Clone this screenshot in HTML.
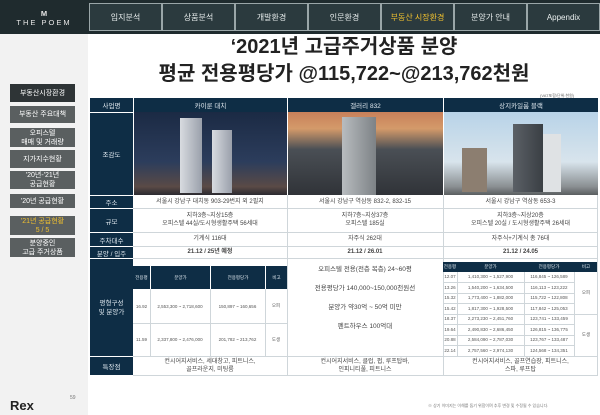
<!DOCTYPE html>
<html><head><meta charset="utf-8"><style>
*{margin:0;padding:0;box-sizing:border-box}
body{width:600px;height:415px;overflow:hidden;background:#fff;font-family:"Liberation Sans","Noto Sans CJK KR",sans-serif;position:relative;color:#333}
.a{position:absolute}
.c{display:flex;align-items:center;justify-content:center;text-align:center}
.nav{top:3px;height:28px;border:1px solid #9aa6a8;background:#2b3a3e;color:#e8eded;font-size:8px}
.sb{left:10px;width:65px;background:#5a5f60;color:#fff;font-size:7px;line-height:9px}
.hd{background:#0e2d45;color:#dfe8ef;font-size:6.5px}
.lb{left:90px;width:43px;background:#0e2d45;color:#dfe8ef;font-size:6.5px}
.cell{font-size:6px;color:#444;line-height:8px}
.ln{height:1px;background:#cfd6da}
.vl{width:1px;background:#cfd6da}
.sm{font-size:4.5px;color:#555}
</style></head><body>
<div class="a" style="left:0;top:0;width:600px;height:34px;background:#1f2b2e"></div>
<div class="a c" style="left:0;top:6px;width:88px;height:24px;color:#e6e6e6;font-size:7.5px;letter-spacing:2px;flex-direction:column;line-height:9px"><span style="font-weight:bold;letter-spacing:0">M</span><span>THE POEM</span></div>
<div class="a c nav" style="left:89px;width:73px">입지분석</div>
<div class="a c nav" style="left:162px;width:73px">상품분석</div>
<div class="a c nav" style="left:235px;width:73px">개발환경</div>
<div class="a c nav" style="left:308px;width:73px">인문환경</div>
<div class="a c nav" style="left:381px;width:73px;color:#f2c12e">부동산 시장환경</div>
<div class="a c nav" style="left:454px;width:73px">분양가 안내</div>
<div class="a c nav" style="left:527px;width:73px">Appendix</div>
<div class="a" style="left:0;top:34px;width:88px;height:381px;background:#f2f2f2"></div>
<div class="a c sb" style="top:84px;height:18px;background:#2e3436">부동산시장환경</div>
<div class="a c sb" style="top:106px;height:17px">부동산 주요대책</div>
<div class="a c sb" style="top:128px;height:19px">오피스텔<br>매매 및 거래량</div>
<div class="a c sb" style="top:150px;height:18px">지가지수현황</div>
<div class="a c sb" style="top:171px;height:18px">'20년-'21년<br>공급현황</div>
<div class="a c sb" style="top:194px;height:14px">'20년 공급현황</div>
<div class="a c sb" style="top:216px;height:19px;color:#f2c12e">'21년 공급현황<br>5 / 5</div>
<div class="a c sb" style="top:238px;height:19px">분양중인<br>고급 주거상품</div>
<div class="a" style="left:10px;top:398px;font-size:13px;font-weight:bold;color:#222">Rex</div>
<div class="a" style="left:70px;top:395px;font-size:5px;color:#777">59</div>
<div class="a c" style="left:90px;top:34px;width:508px;font-size:20px;font-weight:bold;color:#222;line-height:27px;flex-direction:column"><span>‘2021년 고급주거상품 분양</span><span>평균 전용평당가 @115,722~@213,762천원</span></div>
<div class="a" style="left:540px;top:93px;font-size:4px;color:#666">(VAT포함/단위:천원)</div>
<!-- header row -->
<div class="a c hd" style="left:90px;top:98px;width:508px;height:14px"></div>
<div class="a c hd" style="left:90px;top:98px;width:43px;height:14px">사업명</div>
<div class="a c hd" style="left:133px;top:98px;width:154px;height:14px;border-left:1px solid #fff">카이룬 대치</div>
<div class="a c hd" style="left:287px;top:98px;width:156px;height:14px;border-left:1px solid #fff">갤러리 832</div>
<div class="a c hd" style="left:443px;top:98px;width:155px;height:14px;border-left:1px solid #fff">상지카일룸 블랙</div>
<!-- labels -->
<div class="a c lb" style="top:112px;height:83px;border-top:1px solid #fff">조감도</div>
<div class="a c lb" style="top:195px;height:13px;border-top:1px solid #fff">주소</div>
<div class="a c lb" style="top:208px;height:24px;border-top:1px solid #fff">규모</div>
<div class="a c lb" style="top:232px;height:14px;border-top:1px solid #fff">주차대수</div>
<div class="a c lb" style="top:246px;height:12px;border-top:1px solid #fff">분양 / 입주</div>
<div class="a c lb" style="top:258px;height:98px;border-top:1px solid #fff;line-height:9px">평형구성<br>및 분양가</div>
<div class="a c lb" style="top:356px;height:19px;border-top:1px solid #fff">특장점</div>
<!-- images -->
<div class="a" style="left:134px;top:112px;width:153px;height:83px;background:linear-gradient(180deg,#1b2a44 0%,#2c3d5c 60%,#5a4a46 90%,#2b2a30 100%)"></div>
<div class="a" style="left:180px;top:118px;width:22px;height:75px;background:linear-gradient(90deg,#d8dbe0,#9aa0ab)"></div>
<div class="a" style="left:212px;top:130px;width:20px;height:63px;background:linear-gradient(90deg,#d8dbe0,#9aa0ab)"></div>
<div class="a" style="left:288px;top:112px;width:155px;height:83px;background:linear-gradient(180deg,#c8805a 0%,#d49a6a 20%,#4a4f55 45%,#303338 100%)"></div>
<div class="a" style="left:342px;top:117px;width:34px;height:78px;background:linear-gradient(90deg,#b8bcbf,#7d8286)"></div>
<div class="a" style="left:444px;top:112px;width:154px;height:83px;background:linear-gradient(180deg,#b8d3e8 0%,#d8e4ec 60%,#8a8f92 90%,#5a5e60 100%)"></div>
<div class="a" style="left:513px;top:124px;width:30px;height:68px;background:linear-gradient(90deg,#5b6066,#3a3f44)"></div>
<div class="a" style="left:543px;top:134px;width:18px;height:58px;background:#dfe2e4"></div>
<div class="a" style="left:462px;top:148px;width:25px;height:44px;background:#8c7e70"></div>
<!-- text rows -->
<div class="a c cell" style="left:133px;top:195px;width:154px;height:13px">서울시 강남구 대치동 903-29번지 외 2필지</div>
<div class="a c cell" style="left:287px;top:195px;width:156px;height:13px">서울시 강남구 역삼동 832-2, 832-15</div>
<div class="a c cell" style="left:443px;top:195px;width:155px;height:13px">서울시 강남구 역삼동 653-3</div>
<div class="a c cell" style="left:133px;top:208px;width:154px;height:24px">지하3층~지상15층<br>오피스텔 44실/도시형생활주택 56세대</div>
<div class="a c cell" style="left:287px;top:208px;width:156px;height:24px">지하7층~지상37층<br>오피스텔 185실</div>
<div class="a c cell" style="left:443px;top:208px;width:155px;height:24px">지하3층~지상20층<br>오피스텔 20실 / 도시형생활주택 26세대</div>
<div class="a c cell" style="left:133px;top:232px;width:154px;height:14px">기계식 116대</div>
<div class="a c cell" style="left:287px;top:232px;width:156px;height:14px">자주식 262대</div>
<div class="a c cell" style="left:443px;top:232px;width:155px;height:14px">자주식+기계식 총 76대</div>
<div class="a c cell" style="left:133px;top:246px;width:154px;height:12px;font-weight:bold">21.12 / 25년 예정</div>
<div class="a c cell" style="left:287px;top:246px;width:156px;height:12px;font-weight:bold">21.12 / 26.01</div>
<div class="a c cell" style="left:443px;top:246px;width:155px;height:12px;font-weight:bold">21.12 / 24.05</div>
<div class="a ln" style="left:133px;top:208px;width:465px"></div>
<div class="a ln" style="left:133px;top:232px;width:465px"></div>
<div class="a ln" style="left:133px;top:246px;width:465px"></div>
<div class="a ln" style="left:133px;top:258px;width:465px"></div>
<div class="a ln" style="left:133px;top:356px;width:465px"></div>
<div class="a ln" style="left:133px;top:375px;width:465px"></div>
<div class="a vl" style="left:287px;top:195px;height:180px"></div>
<div class="a vl" style="left:443px;top:195px;height:180px"></div>
<!-- col1 subtable -->
<div class="a hd" style="left:133px;top:266px;width:154px;height:23px"></div>
<div class="a c sm" style="left:133px;top:266px;width:17px;height:23px;color:#dfe8ef">전용평</div>
<div class="a c sm" style="left:150px;top:266px;width:60px;height:23px;color:#dfe8ef;border-left:1px solid #fff">분양가</div>
<div class="a c sm" style="left:210px;top:266px;width:55px;height:23px;color:#dfe8ef;border-left:1px solid #fff">전용평당가</div>
<div class="a c sm" style="left:265px;top:266px;width:22px;height:23px;color:#dfe8ef;border-left:1px solid #fff">비고</div>
<div class="a c sm" style="left:133px;top:289px;width:17px;height:34px">16.92</div>
<div class="a c sm" style="left:150px;top:289px;width:60px;height:34px">2,553,300 ~ 2,718,600</div>
<div class="a c sm" style="left:210px;top:289px;width:55px;height:34px">150,897 ~ 160,656</div>
<div class="a c sm" style="left:265px;top:289px;width:22px;height:34px">오피</div>
<div class="a c sm" style="left:133px;top:323px;width:17px;height:33px">11.59</div>
<div class="a c sm" style="left:150px;top:323px;width:60px;height:33px">2,337,800 ~ 2,476,000</div>
<div class="a c sm" style="left:210px;top:323px;width:55px;height:33px">201,782 ~ 213,762</div>
<div class="a c sm" style="left:265px;top:323px;width:22px;height:33px">도생</div>
<div class="a ln" style="left:133px;top:323px;width:154px"></div>
<div class="a vl" style="left:150px;top:289px;height:67px"></div>
<div class="a vl" style="left:210px;top:289px;height:67px"></div>
<div class="a vl" style="left:265px;top:289px;height:67px"></div>
<!-- col2 -->
<div class="a c cell" style="left:287px;top:258px;width:156px;height:80px;flex-direction:column;line-height:19px;font-size:6.5px"><span>오피스텔 전용(전층 복층) 24~60평</span><span>전용평당가 140,000~150,000천원선</span><span>분양가 약30억 ~ 50억 미만</span><span>펜트하우스 100억대</span></div>
<!-- col3 subtable -->
<div class="a hd" style="left:443px;top:262px;width:155px;height:10px"></div>
<div class="a c sm" style="left:443px;top:262px;width:14px;height:10px;color:#dfe8ef">전용평</div>
<div class="a c sm" style="left:457px;top:262px;width:67px;height:10px;color:#dfe8ef">분양가</div>
<div class="a c sm" style="left:524px;top:262px;width:50px;height:10px;color:#dfe8ef">전용평당가</div>
<div class="a c sm" style="left:574px;top:262px;width:24px;height:10px;color:#dfe8ef">비고</div>
<div class="a" style="left:443px;top:272px;width:131px;font-size:4.5px;color:#555;line-height:10.5px">
<div style="display:flex"><span style="width:14px;text-align:center">12.07</span><span style="width:67px;text-align:center">1,410,300 ~ 1,527,900</span><span style="width:50px;text-align:center">116,845 ~ 126,589</span></div>
<div style="display:flex"><span style="width:14px;text-align:center">13.26</span><span style="width:67px;text-align:center">1,540,200 ~ 1,634,500</span><span style="width:50px;text-align:center">116,113 ~ 123,222</span></div>
<div style="display:flex"><span style="width:14px;text-align:center">15.32</span><span style="width:67px;text-align:center">1,773,400 ~ 1,882,000</span><span style="width:50px;text-align:center">115,722 ~ 122,808</span></div>
<div style="display:flex"><span style="width:14px;text-align:center">15.42</span><span style="width:67px;text-align:center">1,817,300 ~ 1,928,500</span><span style="width:50px;text-align:center">117,842 ~ 125,053</span></div>
<div style="display:flex"><span style="width:14px;text-align:center">18.37</span><span style="width:67px;text-align:center">2,273,230 ~ 2,451,760</span><span style="width:50px;text-align:center">123,741 ~ 133,459</span></div>
<div style="display:flex"><span style="width:14px;text-align:center">19.64</span><span style="width:67px;text-align:center">2,490,830 ~ 2,686,450</span><span style="width:50px;text-align:center">126,815 ~ 136,775</span></div>
<div style="display:flex"><span style="width:14px;text-align:center">20.88</span><span style="width:67px;text-align:center">2,584,090 ~ 2,787,030</span><span style="width:50px;text-align:center">123,767 ~ 133,487</span></div>
<div style="display:flex"><span style="width:14px;text-align:center">22.14</span><span style="width:67px;text-align:center">2,757,560 ~ 2,974,130</span><span style="width:50px;text-align:center">124,568 ~ 134,351</span></div>
</div>
<div class="a c sm" style="left:574px;top:272px;width:24px;height:42px">오피</div>
<div class="a c sm" style="left:574px;top:314px;width:24px;height:42px">도생</div>
<div class="a ln" style="left:443px;top:282px;width:131px"></div>
<div class="a ln" style="left:443px;top:293px;width:131px"></div>
<div class="a ln" style="left:443px;top:303px;width:131px"></div>
<div class="a ln" style="left:443px;top:314px;width:155px"></div>
<div class="a ln" style="left:443px;top:324px;width:131px"></div>
<div class="a ln" style="left:443px;top:335px;width:131px"></div>
<div class="a ln" style="left:443px;top:345px;width:131px"></div>
<div class="a vl" style="left:457px;top:272px;height:84px"></div>
<div class="a vl" style="left:524px;top:272px;height:84px"></div>
<div class="a vl" style="left:574px;top:272px;height:84px"></div>
<div class="a vl" style="left:597px;top:195px;height:180px"></div>
<!-- features -->
<div class="a c cell" style="left:133px;top:356px;width:154px;height:19px">컨시어지서비스, 세대창고, 피트니스,<br>골프라운지, 미팅룸</div>
<div class="a c cell" style="left:287px;top:356px;width:156px;height:19px">컨시어지서비스, 클럽, 펍, 루프탑바,<br>인피니티풀, 피트니스</div>
<div class="a c cell" style="left:443px;top:356px;width:155px;height:19px">컨시어지서비스, 골프연습장, 피트니스,<br>스파, 루프탑</div>
<div class="a" style="left:428px;top:403px;font-size:4px;color:#777">※ 상기 이미지는 이해를 돕기 위함이며 추후 변경 및 수정될 수 있습니다.</div>
</body></html>
